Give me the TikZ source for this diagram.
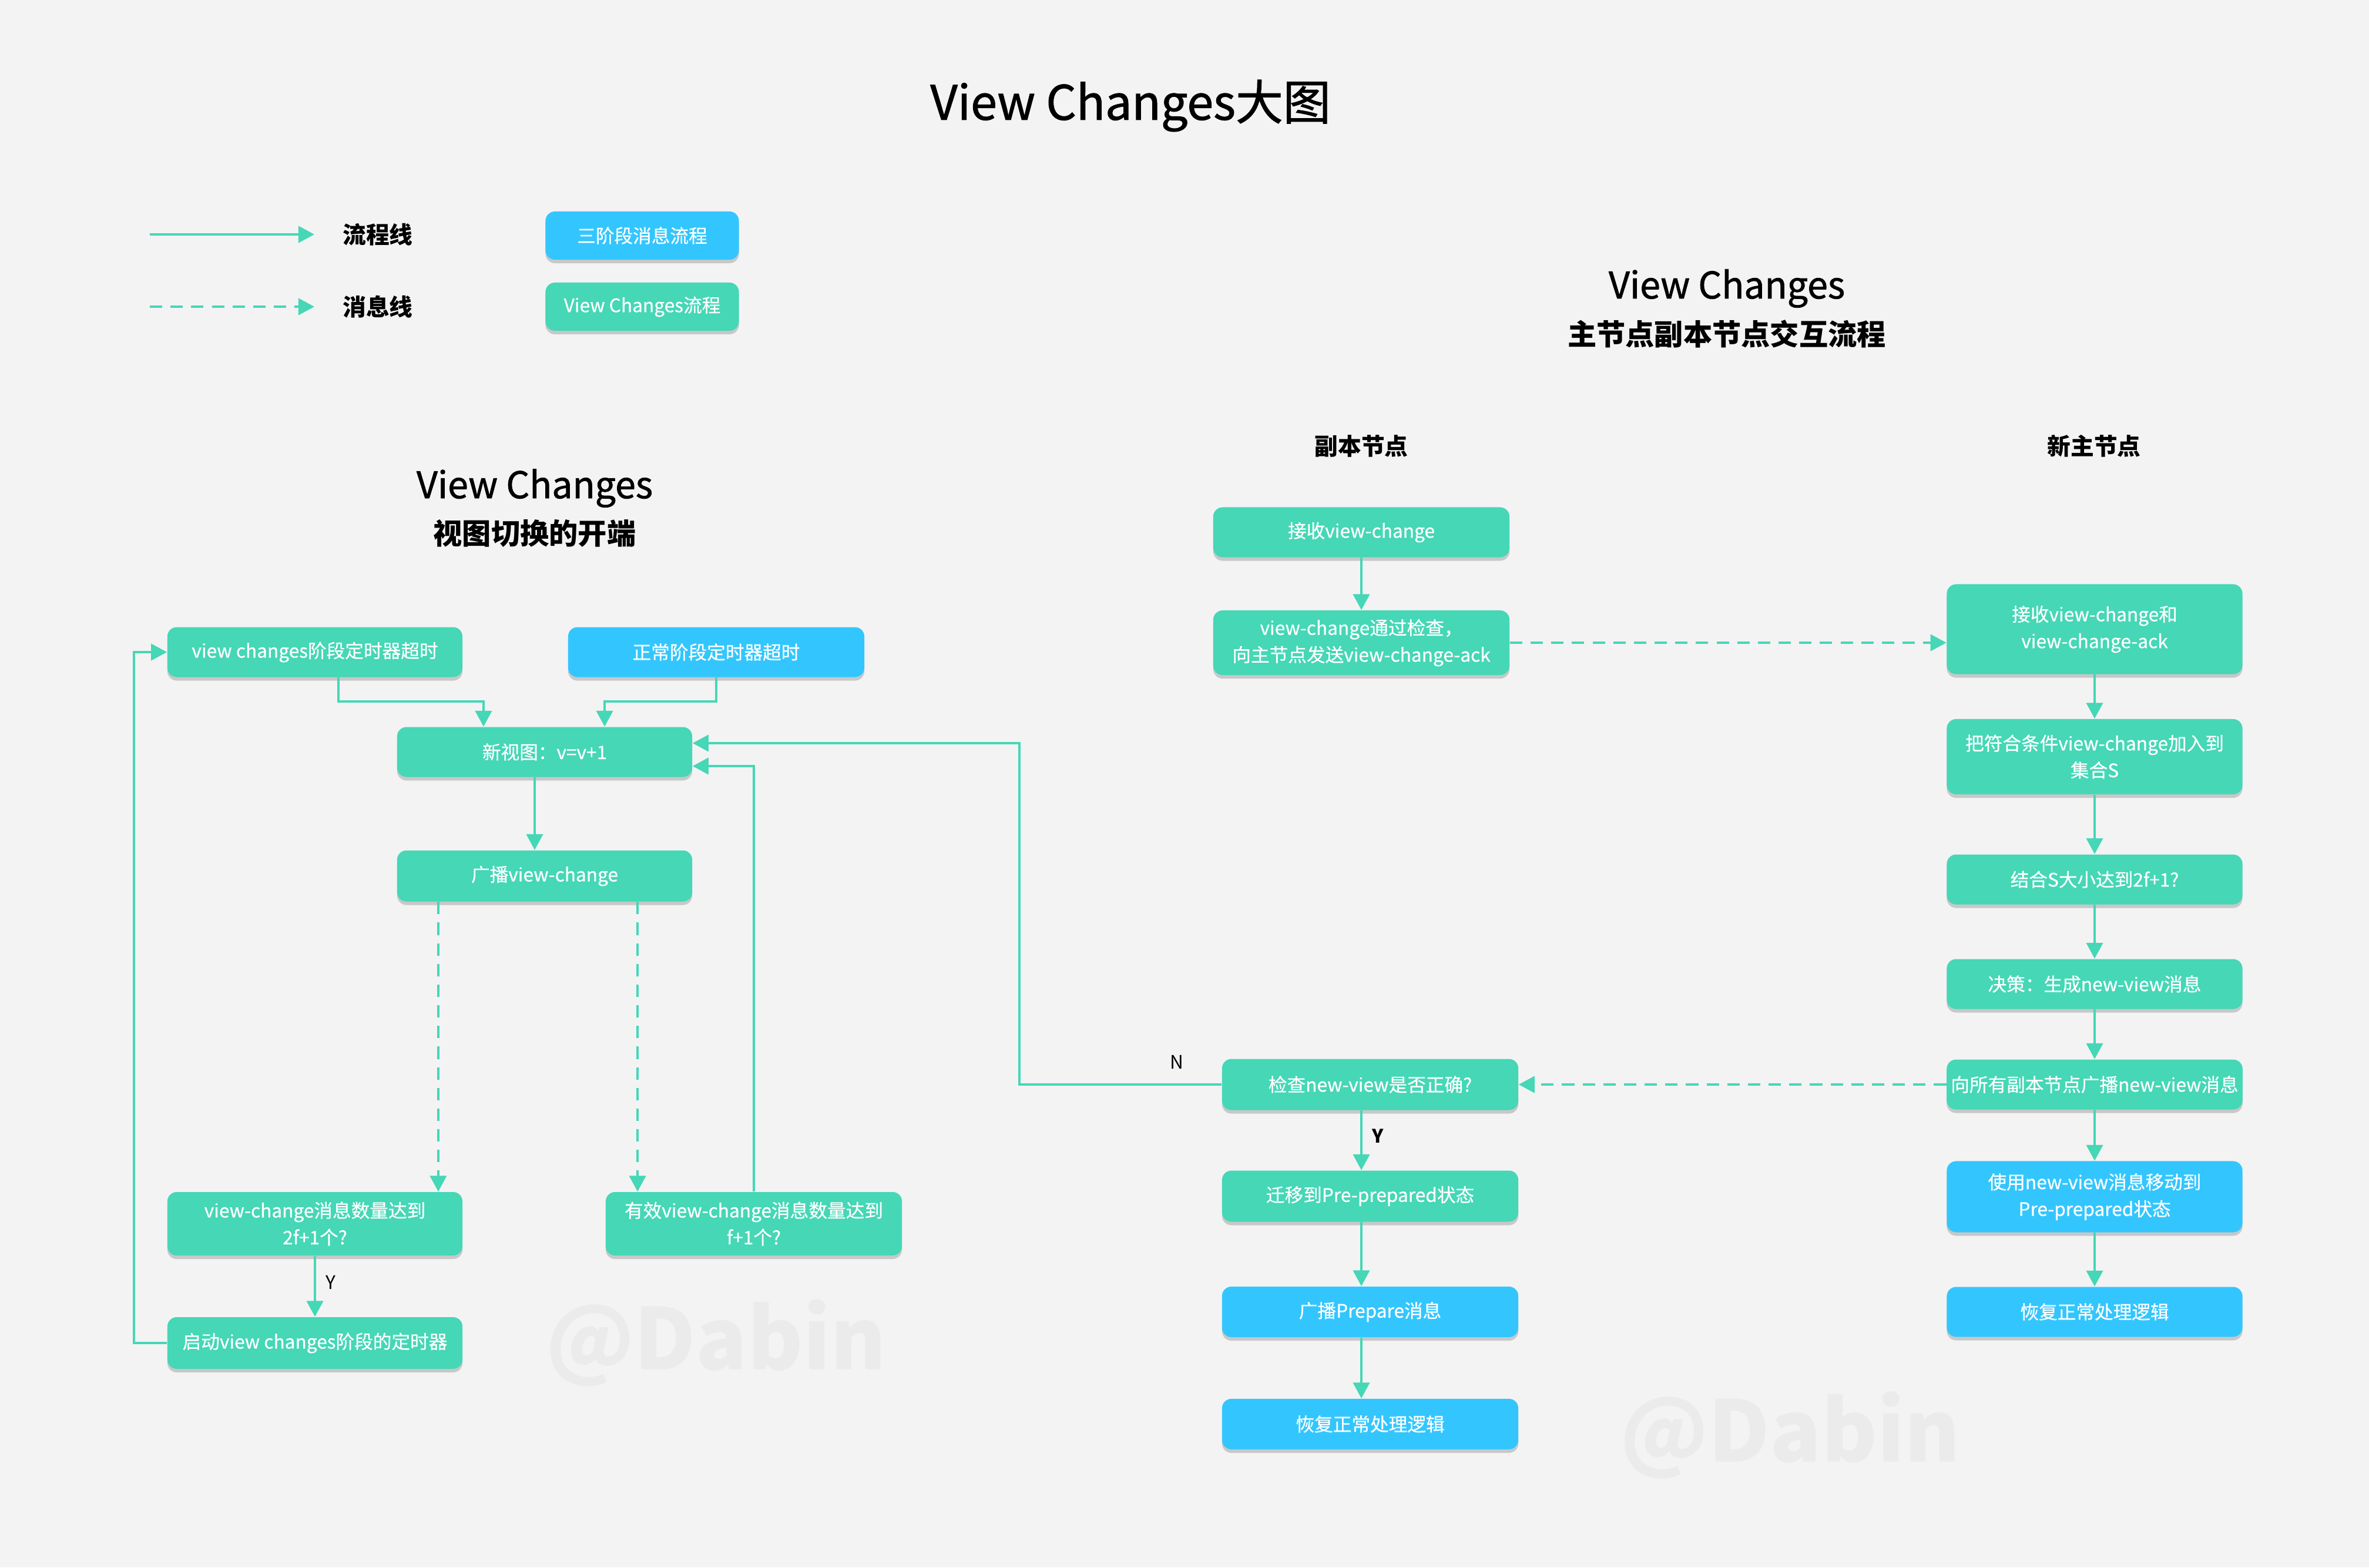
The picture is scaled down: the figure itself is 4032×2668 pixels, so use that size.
\documentclass[tikz,border=0pt]{standalone}
\usepackage{fontspec}
\setmainfont{Noto Sans CJK SC}
\newfontfamily\medfont{Noto Sans CJK SC}[FakeBold=0.5]
\newfontfamily\titlefont{Noto Sans CJK SC}[FakeBold=1.2]
\usetikzlibrary{arrows.meta,shadows}
\definecolor{vcgreen}{HTML}{45D7B6}
\definecolor{tpblue}{HTML}{33C6FE}
\definecolor{bgc}{HTML}{F3F3F3}
\definecolor{wmc}{HTML}{EBEBEB}
\tikzset{
  box/.style={rounded corners=0.16cm, minimum width=5.03cm, text=white, align=center,
    font=\medfont\fontsize{9pt}{13pt}\selectfont, inner sep=2pt,
    drop shadow={shadow xshift=0cm, shadow yshift=-0.06cm, opacity=0.3, fill=black!60}},
  gbox/.style={box, fill=vcgreen},
  bbox/.style={box, fill=tpblue},
  flow/.style={draw=vcgreen, line width=1.2pt, -{Triangle[length=0.27cm,width=0.28cm]}},
  msg/.style={flow, dash pattern=on 6pt off 4pt},
  lbl/.style={text=black, font=\fontsize{9pt}{11pt}\selectfont},
  hdr/.style={text=black, font=\fontsize{11.3pt}{14pt}\selectfont\bfseries},
  wm/.style={text=wmc, font=\fontsize{41pt}{48pt}\selectfont\bfseries}
}
\begin{document}
\begin{tikzpicture}[x=0.01cm, y=-0.01cm]
\fill[bgc] (0,0) rectangle (4032,2668);
\useasboundingbox (0,0) rectangle (4032,2668);

% watermarks
\node[wm] (wm1) at (1219,2286) {@Dabin};
\node[wm] (wm2) at (3047,2443) {@Dabin};

% titles
\node[text=black, font=\titlefont\fontsize{23pt}{27pt}\selectfont] (title) at (1924,180) {View Changes大图};
\node[text=black, font=\titlefont\fontsize{17.8pt}{21pt}\selectfont] (rt1) at (2939,491) {View Changes};
\node[text=black, font=\fontsize{14pt}{17pt}\selectfont\bfseries] (rt2) at (2939,568) {主节点副本节点交互流程};
\node[text=black, font=\titlefont\fontsize{17.8pt}{21pt}\selectfont] (lt1) at (910,831) {View Changes};
\node[text=black, font=\fontsize{14pt}{17pt}\selectfont\bfseries] (lt2) at (910,908) {视图切换的开端};
\node[hdr] (h1) at (2317,759) {副本节点};
\node[hdr] (h2) at (3564,759) {新主节点};

% legend
\coordinate (ls1) at (255,399);
\coordinate (le1) at (535,399);
\coordinate (ls2) at (255,522);
\coordinate (le2) at (535,522);
\draw[flow] (ls1) -- (le1);
\draw[msg] (ls2) -- (le2);
\node[hdr] (lg1) at (643,399) {流程线};
\node[hdr] (lg2) at (643,522) {消息线};
\node[bbox, minimum width=3.29cm, minimum height=0.82cm] (lb1) at (1093,401) {三阶段消息流程};
\node[gbox, minimum width=3.29cm, minimum height=0.82cm] (lb2) at (1093,522) {View Changes流程};

% left flow
\node[gbox, minimum width=5.02cm, minimum height=0.85cm] (vct) at (536,1110) {view changes阶段定时器超时};
\node[bbox, minimum width=5.04cm, minimum height=0.85cm] (nt) at (1219,1110) {正常阶段定时器超时};
\node[gbox, minimum width=5.02cm, minimum height=0.85cm] (nv) at (927,1280) {新视图：v=v+1};
\node[gbox, minimum width=5.02cm, minimum height=0.87cm] (bc) at (927,1491) {广播view-change};
\node[gbox, minimum width=5.02cm, minimum height=1.08cm] (q2f) at (536,2083) {view-change消息数量达到\\2f+1个?};
\node[gbox, minimum width=5.04cm, minimum height=1.08cm] (qf) at (1283,2083) {有效view-change消息数量达到\\f+1个?};
\node[gbox, minimum width=5.02cm, minimum height=0.88cm] (st) at (536,2286) {启动view changes阶段的定时器};

\draw[flow] ([xshift=0.4cm]vct.south) -- ++(0,-0.41cm) -| ([xshift=-1.04cm]nv.north);
\draw[flow] (nt.south) -- ++(0,-0.41cm) -| ([xshift=1.02cm]nv.north);
\draw[flow] ([xshift=-0.17cm]nv.south) -- ([xshift=-0.17cm]bc.north);
\coordinate (d1) at ([xshift=-1.81cm]bc.south);
\coordinate (d2) at ([xshift=1.58cm]bc.south);
\draw[msg] (d1) -- (d1 |- q2f.north);
\draw[msg] (d2) -- (d2 |- qf.north);
\draw[flow] (qf.north) |- ([yshift=-0.24cm]nv.east);
\draw[flow] (q2f.south) -- (st.north);
\node[lbl] (y1) at (563,2183) {Y};
\draw[flow] (st.west) -- ++(-0.56cm,0) |- (vct.west);

% replica column
\node[gbox, minimum width=5.04cm, minimum height=0.85cm] (r1) at (2317,906) {接收view-change};
\node[gbox, minimum width=5.04cm, minimum height=1.10cm] (r2) at (2317,1094) {view-change通过检查，\\向主节点发送view-change-ack};
\node[gbox, minimum width=5.04cm, minimum height=0.87cm] (r3) at (2332,1846) {检查new-view是否正确?};
\node[gbox, minimum width=5.04cm, minimum height=0.87cm] (r4) at (2332,2036) {迁移到Pre-prepared状态};
\node[bbox, minimum width=5.04cm, minimum height=0.86cm] (r5) at (2332,2233) {广播Prepare消息};
\node[bbox, minimum width=5.04cm, minimum height=0.86cm] (r6) at (2332,2424) {恢复正常处理逻辑};

\draw[flow] (r1.south) -- (r2.north);
\coordinate (a3) at ([xshift=-0.15cm]r3.south);
\coordinate (a4) at ([xshift=-0.15cm]r4.south);
\coordinate (a5) at ([xshift=-0.15cm]r5.south);
\draw[flow] (a3) -- (a3 |- r4.north);
\draw[flow] (a4) -- (a4 |- r5.north);
\draw[flow] (a5) -- (a5 |- r6.north);
\node[lbl, font=\fontsize{9pt}{11pt}\selectfont\bfseries] (y2) at (2345,1934) {Y};
\draw[flow] (r3.west) -- ++(-3.44cm,0) |- ([yshift=0.15cm]nv.east);
\node[lbl] (n1) at (2003,1808) {N};

% new primary column
\node[gbox, minimum width=5.03cm, minimum height=1.53cm] (m1) at (3565,1071) {接收view-change和\\view-change-ack};
\node[gbox, minimum width=5.03cm, minimum height=1.28cm] (m2) at (3565,1288) {把符合条件view-change加入到\\集合S};
\node[gbox, minimum width=5.03cm, minimum height=0.85cm] (m3) at (3565,1497) {结合S大小达到2f+1?};
\node[gbox, minimum width=5.03cm, minimum height=0.85cm] (m4) at (3565,1675) {决策：生成new-view消息};
\node[gbox, minimum width=5.03cm, minimum height=0.85cm] (m5) at (3565,1846) {向所有副本节点广播new-view消息};
\node[bbox, minimum width=5.03cm, minimum height=1.21cm] (m6) at (3565,2037) {使用new-view消息移动到\\Pre-prepared状态};
\node[bbox, minimum width=5.03cm, minimum height=0.85cm] (m7) at (3565,2233) {恢复正常处理逻辑};

\draw[msg] (r2.east) -- (r2.east -| m1.west);
\draw[flow] (m1.south) -- (m2.north);
\draw[flow] (m2.south) -- (m3.north);
\draw[flow] (m3.south) -- (m4.north);
\draw[flow] (m4.south) -- (m5.north);
\draw[flow] (m5.south) -- (m6.north);
\draw[flow] (m6.south) -- (m7.north);
\draw[msg] (m5.west) -- (r3.east);
\end{tikzpicture}
\end{document}
